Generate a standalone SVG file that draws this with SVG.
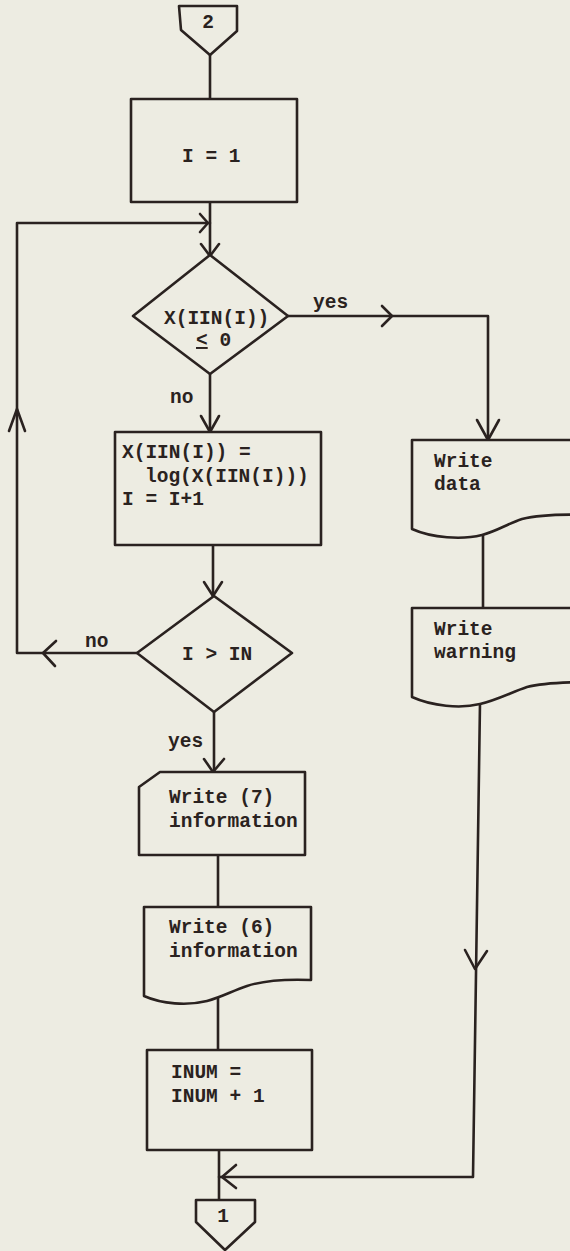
<svg xmlns="http://www.w3.org/2000/svg" width="570" height="1251" viewBox="0 0 570 1251">
<style>
.s{fill:none;stroke:#2a2220;stroke-width:2.6;stroke-linejoin:round;stroke-linecap:round}
.n{fill:#edece2;stroke:#2a2220;stroke-width:2.6;stroke-linejoin:round}
.t{font-family:"Liberation Mono","Courier New",monospace;font-weight:bold;font-size:19.5px;fill:#2a2220}
.m{text-anchor:middle}
</style>
<rect x="0" y="0" width="570" height="1251" fill="#edece2"/>
<g id="connectors">
<path class="s" d="M210,55 V99"/>
<path class="s" d="M210,202 V255"/>
<path class="s" d="M200,214 L208,223 L200,232"/>
<path class="s" d="M201,244 L210,256 L219,244"/>
<path class="s" d="M288,316 H488 V440"/>
<path class="s" d="M382,306 L392,316 L382,326"/>
<path class="s" d="M477,420 L488,440 L499,420"/>
<path class="s" d="M210,374 V432"/>
<path class="s" d="M201,416 L210,432 L219,416"/>
<path class="s" d="M213,545 V596"/>
<path class="s" d="M204,582 L213,596 L222,582"/>
<path class="s" d="M137,653 H17 V223 H210"/>
<path class="s" d="M56,641 L43,653 L55,666"/>
<path class="s" d="M9,431 L17,409 L25,431"/>
<path class="s" d="M214,712 V772"/>
<path class="s" d="M204,759 L213,772 L224,759"/>
<path class="s" d="M218,855 V907"/>
<path class="s" d="M218,996 V1050"/>
<path class="s" d="M219,1150 V1200"/>
<path class="s" d="M483,534 V608"/>
<path class="s" d="M480,703 L473,1177 H219"/>
<path class="s" d="M465,950 L475,969 L487,951"/>
<path class="s" d="M236,1165 L222,1177 L236,1188"/>
</g>
<g id="start">
<path class="n" d="M179,6 H237 V31 L210,55 L181,30 Z"/>
<text class="t m" x="208" y="28">2</text>
</g>
<g id="init">
<rect class="n" x="131" y="99" width="166" height="103"/>
<text class="t" x="182" y="162">I = 1</text>
</g>
<g id="test1">
<path class="n" d="M210,255 L288,316 L210,374 L133,316 Z"/>
<text class="t" x="164" y="324">X(IIN(I))</text>
<text class="t" x="196" y="346"><tspan text-decoration="underline">&lt;</tspan> 0</text>
</g>
<g id="process">
<rect class="n" x="115" y="432" width="206" height="113"/>
<text class="t" x="122" y="458">X(IIN(I)) =</text>
<text class="t" x="145" y="482">log(X(IIN(I)))</text>
<text class="t" x="122" y="505">I = I+1</text>
</g>
<g id="test2">
<path class="n" d="M214,596 L292,653 L214,712 L137,653 Z"/>
<text class="t" x="182" y="660">I &gt; IN</text>
</g>
<g id="write7">
<path class="n" d="M160,772 H305 V855 H139 V787 Z"/>
<text class="t" x="169" y="803">Write (7)</text>
<text class="t" x="169" y="827">information</text>
</g>
<g id="write6">
<path class="n" d="M144,907 H311 V980 C285,979 262,981 247,986 C232,991 222,997 207,1001 C187,1006 162,1004 144,996 Z"/>
<text class="t" x="169" y="933">Write (6)</text>
<text class="t" x="169" y="957">information</text>
</g>
<g id="inum">
<rect class="n" x="147" y="1050" width="165" height="100"/>
<text class="t" x="171" y="1078">INUM =</text>
<text class="t" x="171" y="1102">INUM + 1</text>
</g>
<g id="end">
<path class="n" d="M196,1200 H255 V1222 L225,1250 L196,1222 Z"/>
<text class="t m" x="223" y="1222">1</text>
</g>
<g id="writedata">
<path class="n" d="M412,440 H592 V515 C562,514 538,515 522,519 C507,524 497,531 482,535 C462,540 432,538 412,529 Z"/>
<text class="t" x="434" y="467">Write</text>
<text class="t" x="434" y="490">data</text>
</g>
<g id="writewarning">
<path class="n" d="M412,608 H592 V682 C562,682 542,683 527,687 C512,692 497,700 480,704 C460,709 432,706 412,697 Z"/>
<text class="t" x="434" y="635">Write</text>
<text class="t" x="434" y="658">warning</text>
</g>
<g id="labels">
<text class="t" x="313" y="308">yes</text>
<text class="t" x="170" y="403">no</text>
<text class="t" x="85" y="647">no</text>
<text class="t" x="168" y="747">yes</text>
</g>
</svg>
